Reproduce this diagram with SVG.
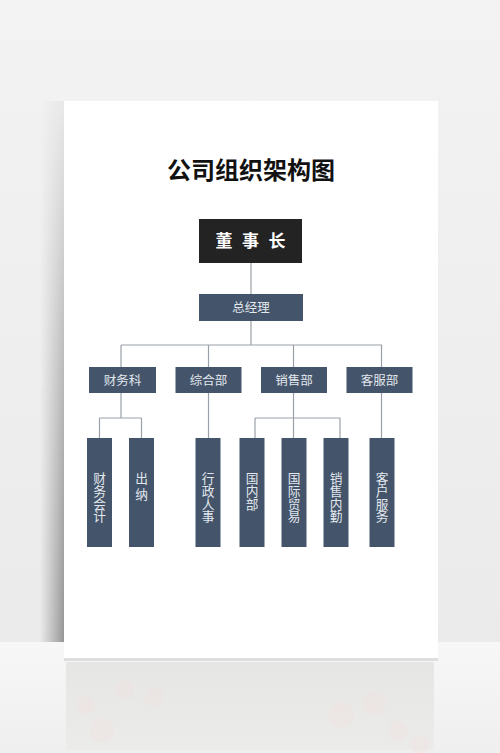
<svg xmlns="http://www.w3.org/2000/svg" width="500" height="753" viewBox="0 0 500 753">
<defs>
<linearGradient id="bg" x1="0" y1="0" x2="0" y2="1">
<stop offset="0" stop-color="#f3f3f3"/><stop offset="1" stop-color="#e9e9e9"/>
</linearGradient>
<linearGradient id="floor" x1="0" y1="0" x2="0" y2="1">
<stop offset="0" stop-color="#f7f7f7"/><stop offset="1" stop-color="#efefef"/>
</linearGradient>
<linearGradient id="lshadow" x1="0" y1="0" x2="1" y2="0">
<stop offset="0" stop-color="#888" stop-opacity="0"/><stop offset="1" stop-color="#777" stop-opacity="0.75"/>
</linearGradient>
<linearGradient id="vfade" x1="0" y1="0" x2="0" y2="1">
<stop offset="0" stop-color="#fff" stop-opacity="0.1"/><stop offset="0.5" stop-color="#fff" stop-opacity="0.6"/><stop offset="1" stop-color="#fff" stop-opacity="1"/>
</linearGradient>
<mask id="fadeMask"><rect x="30" y="101" width="40" height="541" fill="url(#vfade)"/></mask>
<linearGradient id="refl" x1="0" y1="0" x2="0" y2="1">
<stop offset="0" stop-color="#e6e7e5"/><stop offset="1" stop-color="#ebebea"/>
</linearGradient>
<style>
.ln{stroke:#9aa0a8;stroke-width:1.2;fill:none}
.box{fill:#44546a}
.t{font-family:"Noto Sans CJK SC","Noto Sans",sans-serif;fill:#e3e8ee;font-size:12.5px;text-anchor:middle}
.v{font-family:"Noto Sans CJK SC","Noto Sans",sans-serif;fill:#e3e8ee;font-size:12.7px;writing-mode:vertical-rl;text-anchor:start}
</style>
</defs>
<rect width="500" height="753" fill="url(#bg)"/>
<rect x="0" y="642" width="500" height="111" fill="url(#floor)"/>
<rect x="66" y="662" width="368" height="88" fill="url(#refl)"/>
<g fill="#f3dede" opacity="0.3">
<circle cx="125" cy="690" r="10"/><circle cx="154" cy="697" r="10"/><circle cx="86" cy="705" r="9"/><circle cx="102" cy="730" r="12"/>
<circle cx="341" cy="715" r="13"/><circle cx="374" cy="703" r="12"/><circle cx="398" cy="731" r="10"/><circle cx="420" cy="745" r="10"/>
</g>
<rect x="40" y="101" width="24" height="541" fill="url(#lshadow)" mask="url(#fadeMask)"/>
<rect x="64" y="656" width="374" height="5" fill="#cfcfcf" opacity="0.6"/>
<rect x="64" y="101" width="374" height="557" fill="#ffffff"/>
<text x="251" y="179" font-family="Noto Sans CJK SC,sans-serif" font-size="24" font-weight="bold" text-anchor="middle" fill="#111">公司组织架构图</text>
<g id="connectors">
<line class="ln" x1="251" y1="263" x2="251" y2="294"/>
<line class="ln" x1="251" y1="321" x2="251" y2="345"/>
<line class="ln" x1="121" y1="345" x2="382" y2="345"/>
<line class="ln" x1="121" y1="345" x2="121" y2="367"/>
<line class="ln" x1="208.5" y1="345" x2="208.5" y2="367"/>
<line class="ln" x1="293.5" y1="345" x2="293.5" y2="367"/>
<line class="ln" x1="381.5" y1="345" x2="381.5" y2="367"/>
<line class="ln" x1="121" y1="393" x2="121" y2="418"/>
<line class="ln" x1="99.5" y1="418" x2="141.5" y2="418"/>
<line class="ln" x1="99.5" y1="418" x2="99.5" y2="438"/>
<line class="ln" x1="141.5" y1="418" x2="141.5" y2="438"/>
<line class="ln" x1="208.5" y1="393" x2="208.5" y2="438"/>
<line class="ln" x1="293.5" y1="393" x2="293.5" y2="438"/>
<line class="ln" x1="255" y1="418" x2="340" y2="418"/>
<line class="ln" x1="255" y1="418" x2="255" y2="438"/>
<line class="ln" x1="340" y1="418" x2="340" y2="438"/>
<line class="ln" x1="381.5" y1="393" x2="381.5" y2="438"/>
</g>
<g id="chairman">
<rect x="199" y="219" width="103" height="44" fill="#232323"/>
<text x="224 250.5 277" y="247" font-family="Noto Sans CJK SC,sans-serif" font-size="17" font-weight="bold" fill="#fff" text-anchor="middle">董事长</text>
</g>
<g id="gm">
<rect class="box" x="199" y="294" width="104" height="27"/>
<text class="t" x="251" y="312">总经理</text>
</g>
<g id="d1"><rect class="box" x="89" y="367" width="67" height="26"/><text class="t" x="122.5" y="384.5">财务科</text></g>
<g id="d2"><rect class="box" x="175.5" y="367" width="66" height="26"/><text class="t" x="208.5" y="384.5">综合部</text></g>
<g id="d3"><rect class="box" x="261" y="367" width="66" height="26"/><text class="t" x="294" y="384.5">销售部</text></g>
<g id="d4"><rect class="box" x="346.5" y="367" width="66" height="26"/><text class="t" x="379.5" y="384.5">客服部</text></g>
<g id="l1"><rect class="box" x="87" y="438" width="25" height="109"/><text class="v" x="99.5" y="472">财务会计</text></g>
<g id="l2"><rect class="box" x="129" y="438" width="25" height="109"/><text class="v" x="141.5" y="472" letter-spacing="3">出纳</text></g>
<g id="l3"><rect class="box" x="195.5" y="438" width="25" height="109"/><text class="v" x="208" y="472">行政人事</text></g>
<g id="l4"><rect class="box" x="239.5" y="438" width="25" height="109"/><text class="v" x="252" y="472">国内部</text></g>
<g id="l5"><rect class="box" x="281.5" y="438" width="25" height="109"/><text class="v" x="294" y="472">国际贸易</text></g>
<g id="l6"><rect class="box" x="323.5" y="438" width="25" height="109"/><text class="v" x="336" y="472">销售内勤</text></g>
<g id="l7"><rect class="box" x="369.5" y="438" width="25" height="109"/><text class="v" x="382" y="472">客户服务</text></g>
</svg>
